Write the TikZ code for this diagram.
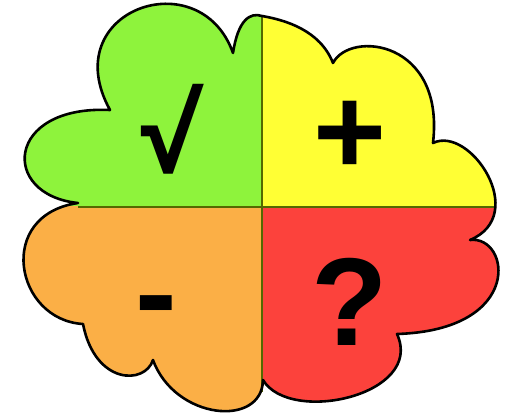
\documentclass[tikz,border=0pt]{standalone}
\usepackage{fontspec}
\setsansfont{Liberation Sans}
\newfontfamily\checkfont{Open Sans}
\usepackage{tikz}
\usetikzlibrary{calc}
\definecolor{leafgreen}{RGB}{142,243,60}
\definecolor{leafyellow}{RGB}{255,255,52}
\definecolor{leaforange}{RGB}{251,175,70}
\definecolor{leafred}{RGB}{252,66,60}
\definecolor{seamline}{RGB}{84,104,0}

% outline of the four-part cloud (pixel-like units, y pointing down)
\newcommand{\cloudoutline}{%
  (262,16) .. controls (285,20) and (320,30) .. (333,63)
  .. controls (350,30) and (445,40) .. (433,143)
  .. controls (470,125) and (530,215) .. (470,240)
  .. controls (510,235) and (525,330) .. (397,334)
  .. controls (425,395) and (290,425) .. (263,380)
  .. controls (262,428) and (175,420) .. (153,360)
  .. controls (145,385) and (95,385) .. (83,324)
  .. controls (15,320) and (-5,215) .. (78,203)
  .. controls (0,195) and (5,105) .. (110,110)
  .. controls (55,10) and (200,-40) .. (233,53)
  .. controls (238,20) and (250,12) .. (262,16) -- cycle}

\begin{document}
\begin{tikzpicture}[
  x=1pt, y=-1pt,
  symbol/.style={
    font=\sffamily\bfseries\fontsize{125}{125}\selectfont,
    text=black,
    inner sep=0pt
  },
  seam/.style={
    draw=seamline,
    line width=1.3pt
  },
  rim/.style={
    draw=black,
    line width=2.6pt,
    line join=round
  }
]
  \useasboundingbox (0,0) rectangle (520,414);

  % Quadrant fills
  \begin{scope}
    \clip (0,0) rectangle (262,207);
    \fill[leafgreen] \cloudoutline;
  \end{scope}
  \begin{scope}
    \clip (262,0) rectangle (520,207);
    \fill[leafyellow] \cloudoutline;
  \end{scope}
  \begin{scope}
    \clip (0,207) rectangle (262,414);
    \fill[leaforange] \cloudoutline;
  \end{scope}
  \begin{scope}
    \clip (262,207) rectangle (520,414);
    \fill[leafred] \cloudoutline;
  \end{scope}

  % Seams between the quadrants
  \draw[seam] (262,16) -- (262,392);
  \draw[seam] (78,207) -- (495,207);

  % Cloud rim
  \draw[rim] \cloudoutline;

  % Symbols
  \node[symbol, font=\checkfont\bfseries\fontsize{104}{104}\selectfont] (chk) at (168,129) {√};
  \node[symbol] (pls) at (350,138) {+};
  \node[symbol, anchor=base] (mns) at (156,336) {-};
  \node[symbol, anchor=base] (qst) at (350,346) {?};
\end{tikzpicture}
\end{document}
